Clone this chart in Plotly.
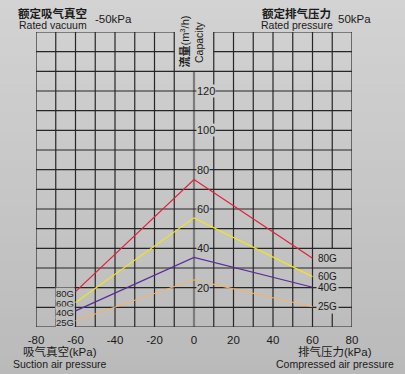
import plotly.graph_objects as go

# ---- data ----
pressure_kpa = [-60, 0, 60]
series_names = ["80G", "60G", "40G", "25G"]
flow_80G = [18, 75, 35]
flow_60G = [12.5, 55.5, 25.6]
flow_40G = [8.2, 35.4, 20.2]
flow_25G = [3.2, 24, 10.3]
series_colors = ["#e2203e", "#f4e41c", "#5a2c9a", "#f2b46a"]
x_ticks = [-80, -60, -40, -20, 0, 20, 40, 60, 80]
x_tick_labels = ["-80", "-60", "-40", "-20", "0", "20", "40", "60", "80"]
y_ticks = [20, 40, 60, 80, 100, 120]
grid_x = list(range(-80, 81, 10))
grid_y = list(range(0, 151, 10))

W, H = 405, 374
L, R, T, B = 36, 53, 32, 47
PW, PH = W - L - R, H - T - B
FONT = "Liberation Sans, Arial, Noto Sans CJK SC, sans-serif"

def px(x):
    return (x - L) / PW

def py(y):
    return (H - B - y) / PH

top_c = (0xd3, 0xd3, 0xd3)
bot_c = (0xba, 0xba, 0xba)

def bg_at(ypix):
    t = max(0.0, min(1.0, ypix / H))
    c = [round(a + (b - a) * t) for a, b in zip(top_c, bot_c)]
    return "rgb(%d,%d,%d)" % tuple(c)

fig = go.Figure()
series = [flow_80G, flow_60G, flow_40G, flow_25G]
for name, vals, col in zip(series_names, series, series_colors):
    fig.add_trace(go.Scatter(x=pressure_kpa, y=vals, mode="lines", name=name,
                             line=dict(color=col, width=1.2), hoverinfo="skip"))

shapes = []
# background gradient bands
nb = 40
for i in range(nb):
    y0 = H * i / nb
    y1 = H * (i + 1) / nb + 0.5
    shapes.append(dict(type="rect", xref="paper", yref="paper",
                       x0=px(0), x1=px(W), y0=py(y1), y1=py(y0),
                       fillcolor=bg_at((y0 + y1) / 2), line=dict(width=0),
                       layer="below"))

def vline(x, y0, y1, color="#262626", width=1.2):
    shapes.append(dict(type="line", xref="x", yref="y", x0=x, x1=x, y0=y0, y1=y1,
                       line=dict(color=color, width=width), layer="below"))

def hline(y, x0, x1, color="#262626", width=1.2):
    shapes.append(dict(type="line", xref="x", yref="y", x0=x0, x1=x1, y0=y, y1=y,
                       line=dict(color=color, width=width), layer="below"))

ymax = grid_y[-1]
for gx in grid_x:
    if gx == 0:
        vline(gx, 0, 130, color="#7c7c7c", width=2.2)
    elif gx == 70:
        vline(gx, 0, 7)
        vline(gx, 40, ymax)
    else:
        vline(gx, 0, ymax)
for gy in grid_y:
    if gy >= 140:
        hline(gy, -80, -10)
        hline(gy, 10, 80)
    else:
        hline(gy, -80, 80)

ann = []
def text(s, xpix, ypix, size, xanchor="center", angle=0, color="#1a1a1a"):
    ann.append(dict(text=s, x=px(xpix), y=py(ypix),
                    xref="paper", yref="paper", showarrow=False, xanchor=xanchor,
                    yanchor="middle", textangle=angle,
                    font=dict(family=FONT, size=size, color=color)))

text("<b>额定吸气真空</b>", 52, 13.5, 11.5)
text("Rated vacuum", 53, 24.5, 10.5)
text("-50kPa", 93, 19, 11.5, xanchor="left")
text("<b>额定排气压力</b>", 296, 13.5, 11.5)
text("Rated pressure", 297, 24.5, 10.5)
text("50kPa", 336, 19, 11.5, xanchor="left")
text("<b>流量</b>(m<sup>3</sup>/h)", 184, 41.5, 11, angle=-90)
text("Capacity", 199, 42, 10.5, angle=-90)
text("吸气真空(kPa)", 60, 351, 11.5)
text("Suction air pressure", 59.5, 363.5, 10.5)
text("排气压力(kPa)", 334.5, 351, 11.5)
text("Compressed air pressure", 334.5, 363.5, 10.5)

# y tick labels on the centre axis
for v in y_ticks:
    ypx = H - B - v * PH / 150
    ann.append(dict(text=str(v), x=0, y=v, xref="x", yref="y", showarrow=False,
                    xanchor="left", yanchor="middle", xshift=1.5,
                    bgcolor=bg_at(ypx), borderpad=0,
                    font=dict(family=FONT, size=11, color="#1a1a1a")))

# series labels
for name, vals in zip(series_names, series):
    ypx = H - B - vals[0] * PH / 150
    ann.append(dict(text=name, x=pressure_kpa[0], y=vals[0], xref="x", yref="y",
                    showarrow=False, xanchor="right", yanchor="middle", xshift=-0.5,
                    yshift=-1.5, bgcolor=bg_at(ypx), borderpad=0,
                    font=dict(family=FONT, size=9.5, color="#1a1a1a")))
    ypx = H - B - vals[-1] * PH / 150
    ann.append(dict(text=name, x=pressure_kpa[-1], y=vals[-1], xref="x", yref="y",
                    showarrow=False, xanchor="left", yanchor="middle", xshift=3,
                    bgcolor=bg_at(ypx), borderpad=1,
                    font=dict(family=FONT, size=10, color="#1a1a1a")))

fig.update_layout(
    width=W, height=H, margin=dict(l=L, r=R, t=T, b=B),
    paper_bgcolor="#c8c8c8", plot_bgcolor="rgba(0,0,0,0)",
    showlegend=False, shapes=shapes, annotations=ann,
    font=dict(family=FONT, color="#1a1a1a"),
    xaxis=dict(range=[-80, 80], tickvals=x_ticks, ticktext=x_tick_labels,
               showgrid=False, zeroline=False,
               showline=False, ticks="", tickfont=dict(size=11.5, family=FONT, color="#1a1a1a"),
               ticklabelstandoff=4, fixedrange=True),
    yaxis=dict(range=[0, 150], showgrid=False, zeroline=False, showline=False,
               showticklabels=False, ticks="", fixedrange=True),
)
fig.write_html("out.html", config={"displayModeBar": False},
               post_script="document.body.style.margin='0px';document.body.style.overflow='hidden';")
